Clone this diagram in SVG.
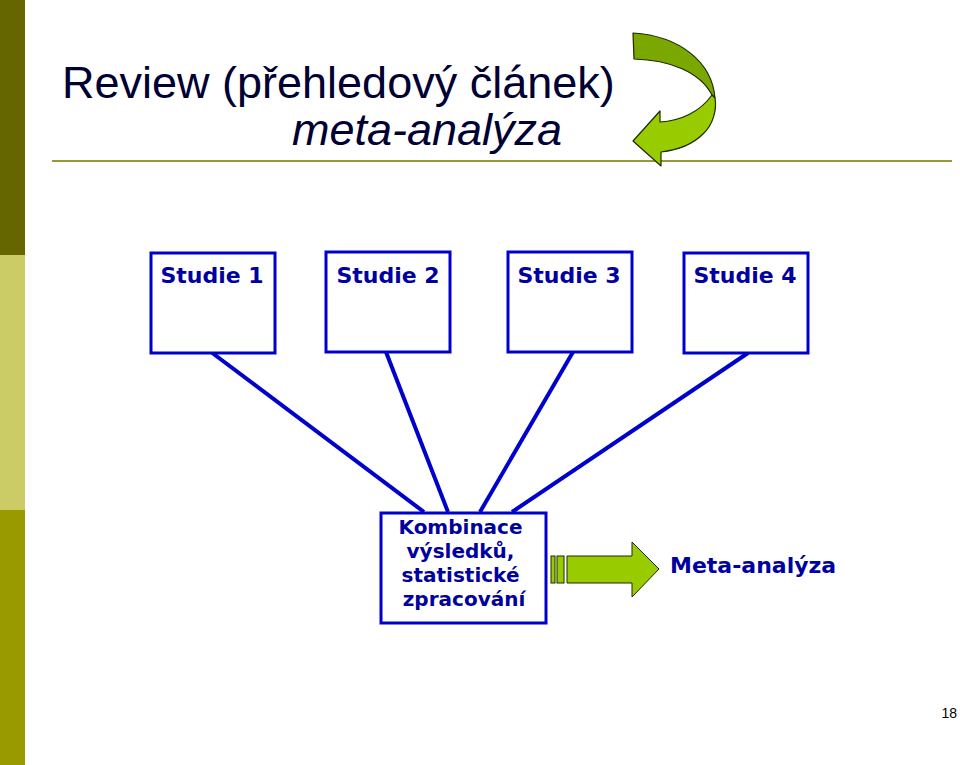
<svg xmlns="http://www.w3.org/2000/svg" width="960" height="765" viewBox="0 0 960 765">
<style>
.box{fill:#fff;stroke:#0000cc;stroke-width:3}
.lbl{font-family:"DejaVu Sans",Verdana,sans-serif;font-weight:bold;fill:#0000a0}
.conn{stroke:#0000cc;stroke-width:4;fill:none}
.title{font-family:"Liberation Sans",Arial,sans-serif;font-size:45px;fill:#000033}
</style>
<rect width="960" height="765" fill="#fff"/>
<g id="sidebar">
<rect x="0" y="0" width="25" height="255" fill="#666600"/>
<rect x="0" y="255" width="25" height="255" fill="#cccc66"/>
<rect x="0" y="510" width="25" height="255" fill="#999900"/>
</g>
<g id="header">
<text class="title" x="62" y="98">Review (přehledový článek)</text>
<text class="title" x="292" y="145" font-style="italic">meta-analýza</text>
<line x1="52" y1="161" x2="952" y2="161" stroke="#999933" stroke-width="2"/>
</g>
<g id="curved-arrow" stroke="#1a2a00" stroke-width="1.2" stroke-linejoin="round">
<path d="M633,33 C680,36 712,62 715,98 L712,95 C700,72 670,60 634,59 Z" fill="#7aa800"/>
<path d="M715,98 C717,110 713,125 703,134 C692,145 678,150 661,152 L661,166 L633,141 L660,111 L660,122 C680,121 700,112 712,95 Z" fill="#99cc00"/>
</g>
<g id="connectors">
<line class="conn" x1="211" y1="352" x2="424" y2="512"/>
<line class="conn" x1="386" y1="352" x2="448" y2="512"/>
<line class="conn" x1="573" y1="352" x2="480" y2="512"/>
<line class="conn" x1="748" y1="353" x2="512" y2="512"/>
</g>
<g id="studie1">
<rect class="box" x="151" y="253" width="124" height="100"/>
<text class="lbl" x="212" y="283" font-size="22" text-anchor="middle">Studie 1</text>
</g>
<g id="studie2">
<rect class="box" x="326" y="252" width="124" height="100"/>
<text class="lbl" x="388" y="283" font-size="22" text-anchor="middle">Studie 2</text>
</g>
<g id="studie3">
<rect class="box" x="508" y="252" width="124" height="100"/>
<text class="lbl" x="569" y="283" font-size="22" text-anchor="middle">Studie 3</text>
</g>
<g id="studie4">
<rect class="box" x="684" y="253" width="124" height="100"/>
<text class="lbl" x="745" y="283" font-size="22" text-anchor="middle">Studie 4</text>
</g>
<g id="kombinace">
<rect class="box" x="381" y="513" width="165" height="110"/>
<text class="lbl" font-size="20" text-anchor="middle">
<tspan x="464" y="534">Kombinace</tspan>
<tspan x="464" y="558">výsledků,</tspan>
<tspan x="464" y="582">statistické</tspan>
<tspan x="464" y="606">zpracování</tspan>
</text>
</g>
<g id="block-arrow" fill="#99cc00" stroke="#1a2a00" stroke-width="1">
<rect x="551" y="556" width="4" height="27"/>
<rect x="557" y="556" width="7" height="27"/>
<path d="M567,556 L632,556 L632,542 L659,569 L632,597 L632,583 L567,583 Z"/>
</g>
<g id="meta">
<text class="lbl" x="670" y="573" font-size="22">Meta-analýza</text>
</g>
<text x="957" y="718" font-family="Liberation Sans,Arial,sans-serif" font-size="14" text-anchor="end" fill="#000">18</text>
</svg>
